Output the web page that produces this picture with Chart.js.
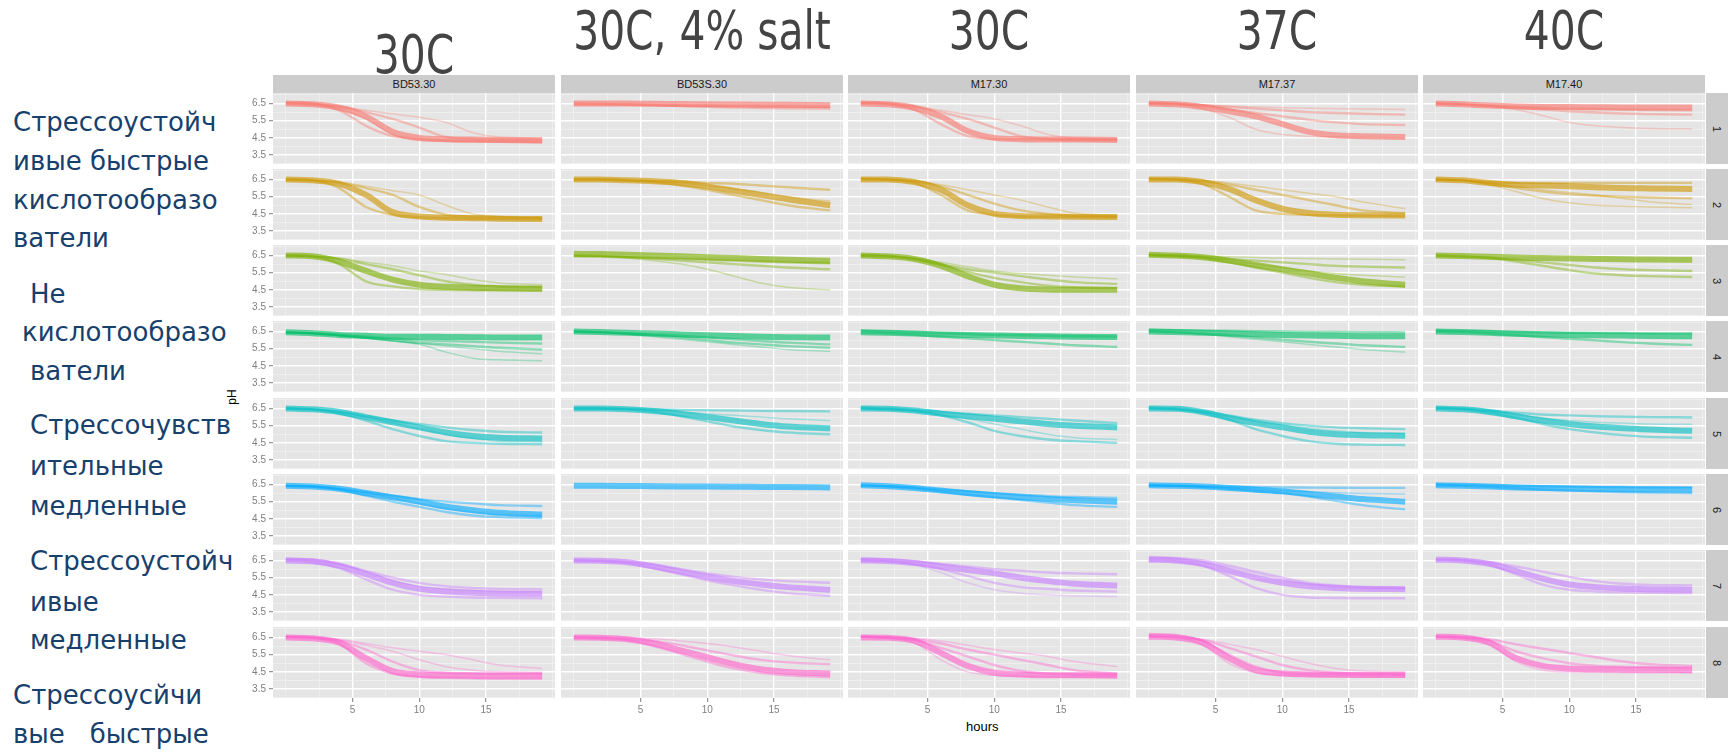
<!doctype html>
<html lang="ru">
<head>
<meta charset="utf-8">
<title>pH curves</title>
<script src="https://cdn.jsdelivr.net/npm/chart.js"></script>
<style>
  body { margin: 0; background: #fff; }
  #page { position: relative; width: 1730px; height: 752px; overflow: hidden; font-family: "Liberation Sans", Arial, sans-serif; }
  .title { position: absolute; width: 320px; text-align: center; white-space: nowrap; transform: scaleX(0.84);
           font-family: "DejaVu Sans Condensed", sans-serif; font-size: 54px; line-height: 54px; color: #444444; }
  .strip { position: absolute; background: #CCCCCC; color: #1a1a1a; font-size: 11px; text-align: center; }
  .rstrip { position: absolute; background: #CCCCCC; color: #1a1a1a; font-size: 11px; }
  .rstrip span { position: absolute; left: 50%; top: 50%; transform: translate(-50%, -50%) rotate(90deg); }
  .side { position: absolute; font-family: "DejaVu Sans", sans-serif; font-size: 26px; line-height: 40px; height: 40px; color: #17406D; white-space: pre; }
  canvas { position: absolute; }
</style>
</head>
<body>
<div id="page"></div>
<script>
// hours at which each curve is sampled
const hours = [0, 2, 4, 6, 8, 10, 12, 14, 16, 19.2];
const strains = ['BD53.30', 'BD53S.30', 'M17.30', 'M17.37', 'M17.40'];
const conditions = ['30C', '30C, 4% salt', '30C', '37C', '40C'];
const clusters = ['1', '2', '3', '4', '5', '6', '7', '8'];
const clusterColors = ['#F8766D', '#CD9600', '#7CAE00', '#00BE67', '#00BFC4', '#00A9FF', '#C77CFF', '#FF61CC'];
const xTicks = [5, 10, 15];
const yTicks = [3.5, 4.5, 5.5, 6.5];

// pH curves: one array per strain, 8 clusters, first curve = dense band
const BD53_30 = [
  [[6.5,6.45,6.25,5.75,4.85,4.5,4.42,4.4,4.38,4.35], [6.55,6.5,6.1,5.2,4.6,4.45,4.35,4.3,4.3,4.28], [6.5,6.45,6.3,6.0,5.6,5.1,4.55,4.45,4.42,4.4], [6.45,6.4,6.2,5.6,4.7,4.35,4.3,4.28,4.25,4.22], [6.55,6.5,6.35,6.1,5.9,5.7,5.4,4.8,4.55,4.5]],
  [[6.5,6.45,6.25,5.6,4.6,4.35,4.28,4.25,4.22,4.2], [6.5,6.45,6.0,4.9,4.45,4.3,4.25,4.22,4.2,4.18], [6.5,6.45,6.3,6.0,5.6,4.9,4.45,4.35,4.3,4.25], [6.5,6.45,6.35,6.1,5.85,5.6,5.0,4.5,4.35,4.3]],
  [[6.5,6.45,6.15,5.6,5.1,4.8,4.68,4.62,4.6,4.58], [6.5,6.45,6.0,5.0,4.7,4.55,4.5,4.48,4.47,4.45], [6.5,6.45,6.3,6.0,5.7,5.35,5.0,4.8,4.7,4.65], [6.5,6.45,6.35,6.1,5.9,5.6,5.4,5.1,4.9,4.8]],
  [[6.45,6.4,6.3,6.25,6.2,6.2,6.18,6.17,6.15,6.15], [6.45,6.4,6.3,6.2,6.1,6.0,5.95,5.9,5.85,5.8], [6.45,6.4,6.28,6.15,6.0,5.85,5.75,5.65,5.55,5.45], [6.45,6.4,6.25,6.1,5.95,5.8,5.65,5.5,5.35,5.2], [6.45,6.4,6.25,6.1,5.95,5.75,5.3,4.95,4.85,4.8]],
  [[6.5,6.45,6.3,6.0,5.7,5.4,5.1,4.9,4.8,4.75], [6.5,6.45,6.3,6.05,5.8,5.6,5.4,5.25,5.15,5.1], [6.5,6.45,6.2,5.8,5.3,4.9,4.6,4.5,4.45,4.42], [6.5,6.45,6.3,6.0,5.65,5.3,5.0,4.75,4.6,4.55]],
  [[6.42,6.38,6.25,6.0,5.75,5.5,5.2,5.0,4.85,4.75], [6.42,6.38,6.25,6.05,5.85,5.65,5.5,5.4,5.3,5.25], [6.42,6.38,6.2,5.85,5.5,5.2,4.9,4.7,4.6,4.55], [6.42,6.38,6.25,6.0,5.7,5.4,5.1,4.9,4.75,4.7]],
  [[6.5,6.45,6.2,5.7,5.2,4.85,4.7,4.62,4.58,4.56], [6.6,6.55,6.3,5.9,5.5,5.2,5.0,4.9,4.85,4.82], [6.5,6.4,6.05,5.4,4.8,4.5,4.4,4.35,4.33,4.3], [6.55,6.5,6.25,5.85,5.35,5.0,4.85,4.75,4.7,4.68]],
  [[6.5,6.45,6.2,5.3,4.55,4.35,4.3,4.28,4.27,4.27], [6.55,6.5,6.15,5.0,4.4,4.2,4.15,4.12,4.1,4.1], [6.5,6.45,6.3,5.8,5.1,4.6,4.45,4.42,4.4,4.4], [6.55,6.5,6.35,6.05,5.7,5.2,4.8,4.6,4.5,4.48], [6.55,6.5,6.4,6.15,5.9,5.7,5.5,5.2,4.9,4.7]]
];
const BD53S_30 = [
  [[6.5,6.5,6.5,6.48,6.47,6.45,6.44,6.43,6.42,6.4], [6.45,6.45,6.44,6.42,6.4,6.38,6.36,6.35,6.33,6.3], [6.5,6.48,6.45,6.4,6.35,6.3,6.27,6.24,6.22,6.2]],
  [[6.5,6.5,6.45,6.4,6.3,6.1,5.85,5.6,5.35,5.0], [6.5,6.5,6.45,6.42,6.38,6.3,6.25,6.15,6.05,5.9], [6.5,6.5,6.45,6.35,6.15,5.9,5.6,5.3,5.0,4.7], [6.5,6.5,6.45,6.4,6.3,6.15,5.95,5.75,5.5,5.25]],
  [[6.6,6.58,6.55,6.5,6.45,6.4,6.35,6.3,6.25,6.2], [6.45,6.43,6.4,6.35,6.3,6.25,6.2,6.15,6.1,6.05], [6.5,6.48,6.4,6.3,6.2,6.1,6.0,5.9,5.8,5.7], [6.5,6.45,6.35,6.2,6.0,5.7,5.3,4.9,4.65,4.5]],
  [[6.5,6.47,6.42,6.38,6.33,6.28,6.24,6.2,6.17,6.15], [6.5,6.46,6.4,6.32,6.25,6.15,6.05,5.95,5.85,5.75], [6.5,6.45,6.38,6.28,6.15,6.0,5.85,5.75,5.65,5.55], [6.5,6.45,6.35,6.2,6.05,5.9,5.75,5.6,5.45,5.35]],
  [[6.5,6.5,6.45,6.35,6.2,6.0,5.8,5.6,5.45,5.35], [6.5,6.5,6.48,6.45,6.42,6.4,6.38,6.36,6.35,6.33], [6.5,6.5,6.45,6.3,6.05,5.75,5.45,5.25,5.1,5.0], [6.5,6.5,6.47,6.4,6.3,6.2,6.1,6.0,5.9,5.8]],
  [[6.42,6.42,6.41,6.4,6.39,6.38,6.37,6.36,6.35,6.33]],
  [[6.5,6.48,6.4,6.15,5.85,5.55,5.3,5.1,4.95,4.8], [6.5,6.48,6.42,6.25,6.0,5.75,5.55,5.4,5.3,5.2], [6.5,6.47,6.35,6.05,5.7,5.35,5.05,4.8,4.6,4.45]],
  [[6.5,6.48,6.4,6.15,5.75,5.35,4.95,4.65,4.5,4.4], [6.5,6.48,6.42,6.3,6.05,5.75,5.45,5.2,5.05,4.95], [6.5,6.45,6.35,6.0,5.55,5.1,4.7,4.45,4.3,4.2], [6.55,6.52,6.48,6.42,6.3,6.15,5.95,5.7,5.45,5.2]]
];
const M17_30 = [
  [[6.5,6.45,6.25,5.75,4.9,4.5,4.42,4.4,4.4,4.38], [6.55,6.5,6.3,6.0,5.6,5.1,4.6,4.45,4.42,4.4], [6.5,6.45,6.15,5.3,4.6,4.45,4.42,4.4,4.38,4.36], [6.55,6.5,6.35,6.1,5.85,5.6,5.2,4.7,4.5,4.45]],
  [[6.5,6.5,6.35,5.9,5.0,4.5,4.38,4.35,4.33,4.32], [6.55,6.5,6.4,6.1,5.6,5.1,4.7,4.5,4.4,4.35], [6.5,6.48,6.3,5.6,4.7,4.45,4.35,4.33,4.32,4.3], [6.55,6.5,6.42,6.2,5.9,5.6,5.3,4.9,4.55,4.4]],
  [[6.5,6.45,6.3,5.9,5.3,4.8,4.6,4.52,4.5,4.5], [6.5,6.45,6.3,6.0,5.7,5.5,5.3,5.1,4.95,4.85], [6.5,6.45,6.28,5.95,5.55,5.2,4.95,4.75,4.65,4.6], [6.55,6.5,6.35,6.1,5.85,5.6,5.45,5.35,5.25,5.15]],
  [[6.45,6.42,6.38,6.33,6.3,6.27,6.24,6.22,6.2,6.18], [6.55,6.5,6.45,6.4,6.35,6.3,6.28,6.25,6.22,6.2], [6.45,6.4,6.32,6.2,6.1,6.0,5.9,5.8,5.7,5.6]],
  [[6.5,6.48,6.38,6.2,6.05,5.9,5.75,5.6,5.5,5.4], [6.55,6.5,6.42,6.3,6.2,6.1,6.0,5.9,5.8,5.65], [6.5,6.45,6.35,6.1,5.7,5.2,4.9,4.7,4.6,4.5], [6.5,6.45,6.35,6.15,5.9,5.6,5.3,5.0,4.8,4.7]],
  [[6.45,6.4,6.3,6.15,6.0,5.87,5.76,5.65,5.58,5.5], [6.45,6.4,6.32,6.2,6.1,6.0,5.9,5.82,5.77,5.72], [6.45,6.4,6.28,6.1,5.9,5.75,5.6,5.45,5.3,5.2]],
  [[6.5,6.47,6.35,6.15,5.95,5.75,5.5,5.3,5.15,5.05], [6.6,6.55,6.45,6.3,6.15,6.0,5.9,5.8,5.75,5.7], [6.5,6.45,6.3,6.0,5.6,5.2,4.95,4.85,4.75,4.7], [6.5,6.45,6.25,5.8,5.2,4.8,4.6,4.5,4.45,4.4]],
  [[6.5,6.48,6.3,5.6,4.85,4.45,4.35,4.3,4.3,4.28], [6.55,6.5,6.35,5.9,5.4,4.9,4.55,4.4,4.35,4.3], [6.55,6.5,6.4,6.15,5.8,5.5,5.2,4.9,4.6,4.4], [6.5,6.45,6.2,5.2,4.5,4.3,4.25,4.22,4.2,4.2], [6.55,6.52,6.45,6.3,6.05,5.8,5.6,5.4,5.1,4.8]]
];
const M17_37 = [
  [[6.5,6.45,6.3,6.05,5.75,5.3,4.85,4.65,4.6,4.55], [6.5,6.48,6.4,6.3,6.2,6.1,6.0,5.95,5.9,5.85], [6.5,6.45,6.35,6.15,5.95,5.75,5.55,5.4,5.3,5.25], [6.55,6.5,6.2,5.7,5.0,4.7,4.6,4.55,4.52,4.5], [6.5,6.48,6.42,6.35,6.3,6.25,6.22,6.2,6.18,6.15]],
  [[6.5,6.5,6.35,5.95,5.3,4.8,4.55,4.45,4.42,4.4], [6.55,6.5,6.4,6.2,5.9,5.6,5.3,5.0,4.7,4.55], [6.5,6.48,6.25,5.5,4.7,4.5,4.45,4.42,4.4,4.38], [6.55,6.52,6.45,6.3,6.1,5.9,5.7,5.5,5.2,4.8]],
  [[6.55,6.5,6.4,6.2,5.95,5.7,5.45,5.2,5.0,4.8], [6.55,6.5,6.42,6.3,6.2,6.1,6.0,5.9,5.85,5.8], [6.5,6.45,6.35,6.1,5.8,5.5,5.2,4.95,4.8,4.7], [6.55,6.52,6.47,6.42,6.38,6.35,6.32,6.3,6.28,6.25], [6.5,6.47,6.38,6.2,6.0,5.8,5.6,5.45,5.35,5.25]],
  [[6.5,6.47,6.43,6.38,6.34,6.3,6.27,6.25,6.23,6.22], [6.6,6.58,6.56,6.54,6.52,6.5,6.48,6.47,6.46,6.45], [6.5,6.45,6.38,6.28,6.15,6.02,5.9,5.8,5.7,5.6], [6.5,6.45,6.35,6.2,6.05,5.9,5.75,5.6,5.45,5.3]],
  [[6.5,6.48,6.3,5.95,5.65,5.4,5.15,5.0,4.95,4.92], [6.55,6.5,6.35,6.1,5.85,5.65,5.5,5.4,5.35,5.3], [6.5,6.45,6.25,5.85,5.3,4.9,4.6,4.45,4.4,4.38], [6.5,6.47,6.3,6.0,5.75,5.55,5.35,5.2,5.1,5.05]],
  [[6.45,6.43,6.38,6.3,6.2,6.1,5.95,5.8,5.65,5.5], [6.45,6.43,6.4,6.37,6.35,6.33,6.32,6.31,6.3,6.3], [6.45,6.42,6.35,6.25,6.12,6.0,5.8,5.55,5.3,5.05], [6.45,6.42,6.37,6.3,6.22,6.15,6.08,6.02,5.98,5.95]],
  [[6.55,6.5,6.3,5.9,5.5,5.2,5.0,4.9,4.85,4.83], [6.7,6.65,6.5,6.2,5.85,5.5,5.2,5.05,4.95,4.9], [6.5,6.45,6.2,5.6,4.9,4.5,4.35,4.32,4.3,4.3], [6.6,6.55,6.4,6.1,5.75,5.4,5.1,4.95,4.88,4.85]],
  [[6.55,6.5,6.2,5.3,4.6,4.4,4.35,4.33,4.32,4.32], [6.7,6.65,6.3,5.5,4.8,4.45,4.38,4.35,4.33,4.32], [6.55,6.5,6.35,5.9,5.4,4.9,4.6,4.45,4.4,4.38], [6.6,6.55,6.4,6.1,5.8,5.4,5.0,4.7,4.55,4.5], [6.55,6.5,6.1,5.0,4.45,4.3,4.25,4.22,4.2,4.2]]
];
const M17_40 = [
  [[6.5,6.45,6.38,6.33,6.3,6.29,6.28,6.27,6.27,6.26], [6.5,6.45,6.35,6.25,6.15,6.05,5.98,5.92,5.88,5.85], [6.5,6.45,6.37,6.3,6.25,6.2,6.18,6.15,6.12,6.1], [6.5,6.45,6.35,6.15,5.8,5.4,5.2,5.1,5.05,5.02]],
  [[6.5,6.45,6.3,6.2,6.15,6.1,6.05,6.0,5.98,5.95], [6.5,6.45,6.35,6.3,6.3,6.3,6.3,6.3,6.3,6.3], [6.5,6.45,6.25,6.0,5.8,5.65,5.55,5.5,5.45,5.4], [6.5,6.45,6.2,5.8,5.4,5.15,5.0,4.95,4.9,4.85], [6.5,6.45,6.3,6.1,5.9,5.75,5.6,5.4,5.2,5.05]],
  [[6.5,6.47,6.42,6.38,6.35,6.32,6.3,6.28,6.27,6.25], [6.5,6.45,6.38,6.25,6.1,5.95,5.8,5.7,5.65,5.6], [6.5,6.45,6.35,6.15,5.9,5.65,5.45,5.35,5.3,5.25]],
  [[6.5,6.47,6.42,6.37,6.33,6.3,6.28,6.26,6.24,6.22], [6.55,6.52,6.5,6.47,6.45,6.43,6.42,6.41,6.4,6.4], [6.5,6.46,6.38,6.28,6.18,6.08,5.98,5.88,5.8,5.72]],
  [[6.5,6.45,6.3,6.05,5.8,5.6,5.45,5.35,5.28,5.2], [6.55,6.5,6.38,6.25,6.15,6.1,6.05,6.02,6.0,5.98], [6.5,6.45,6.25,5.95,5.6,5.3,5.1,4.95,4.85,4.8], [6.5,6.47,6.35,6.15,5.95,5.8,5.7,5.65,5.6,5.58]],
  [[6.45,6.42,6.38,6.33,6.29,6.26,6.24,6.22,6.21,6.2], [6.5,6.48,6.45,6.42,6.4,6.38,6.36,6.35,6.34,6.33], [6.45,6.42,6.36,6.28,6.2,6.14,6.1,6.06,6.03,6.0]],
  [[6.55,6.5,6.3,5.9,5.45,5.1,4.95,4.87,4.83,4.8], [6.55,6.52,6.4,6.15,5.85,5.55,5.3,5.15,5.08,5.05], [6.55,6.5,6.25,5.7,5.1,4.8,4.7,4.65,4.62,4.6]],
  [[6.55,6.5,6.2,5.3,4.85,4.7,4.65,4.63,4.62,4.6], [6.55,6.5,6.3,5.7,5.3,5.0,4.85,4.8,4.78,4.75], [6.55,6.52,6.4,6.1,5.85,5.6,5.35,5.1,4.95,4.85], [6.5,6.45,6.1,5.1,4.6,4.5,4.48,4.46,4.45,4.45]]
];
const panelData = [BD53_30, BD53S_30, M17_30, M17_37, M17_40];

const sideLines = [
  ['Стрессоустойч', 13, 124], ['ивые быстрые', 13, 163], ['кислотообразо', 13, 202], ['ватели', 13, 240],
  ['Не', 30, 296], ['кислотообразо', 22, 334], ['ватели', 30, 373],
  ['Стрессочувств', 30, 427], ['ительные', 30, 468], ['медленные', 30, 508],
  ['Стрессоустойч', 30, 563], ['ивые', 30, 604], ['медленные', 30, 642],
  ['Стрессоусйчи', 13, 697], ['вые   быстрые', 13, 736]
];

const page = document.getElementById('page');
const colLeft = [273, 561, 848, 1136, 1423];
const rowTop = [93, 169, 245, 321, 398, 474, 550, 627];
const PW = 282, PH = 71;
const xMin = -0.96, xMax = 20.16, yMin = 2.98, yMax = 7.11;
const xGrid = [0, 2.5, 5, 7.5, 10, 12.5, 15, 17.5, 20];
const yGrid = [3, 3.5, 4, 4.5, 5, 5.5, 6, 6.5, 7];

function rgba(hex, a) {
  const n = parseInt(hex.slice(1), 16);
  return 'rgba(' + (n >> 16) + ',' + ((n >> 8) & 255) + ',' + (n & 255) + ',' + a + ')';
}

function addDiv(cls, text, css) {
  const d = document.createElement('div');
  d.className = cls;
  d.innerHTML = text;
  Object.assign(d.style, css);
  page.appendChild(d);
  return d;
}

function noPad(s) {
  s.paddingTop = 0; s.paddingBottom = 0; s.paddingLeft = 0; s.paddingRight = 0;
}

const panelBg = {
  id: 'panelBg',
  beforeDraw(chart) {
    const { ctx, chartArea: a } = chart;
    ctx.save();
    ctx.fillStyle = '#E5E5E5';
    ctx.fillRect(a.left, a.top, a.right - a.left, a.bottom - a.top);
    ctx.restore();
  }
};

// titles and strips
conditions.forEach((t, c) => {
  addDiv('title', t, { left: (colLeft[c] + PW / 2 - 160) + 'px', top: (c === 0 ? 28 : 4) + 'px' });
  addDiv('strip', strains[c], { left: colLeft[c] + 'px', top: '75px', width: PW + 'px', height: '18px', lineHeight: '18px' });
});
clusters.forEach((k, r) => {
  addDiv('rstrip', '<span>' + k + '</span>', { left: '1706px', top: rowTop[r] + 'px', width: '22px', height: PH + 'px' });
});
sideLines.forEach(([t, x, y]) => addDiv('side', t, { left: x + 'px', top: (y - 22) + 'px' }));
addDiv('axl', 'pH', { position: 'absolute', left: '224px', top: '390px', fontSize: '12px', color: '#000', transform: 'rotate(-90deg)' });
addDiv('axl', 'hours', { position: 'absolute', left: '966px', top: '719px', fontSize: '13px', color: '#000' });

// panels
for (let c = 0; c < 5; c++) {
  for (let r = 0; r < 8; r++) {
    const leftW = c === 0 ? 40 : 0;
    const botH = r === 7 ? 24 : 0;
    const cv = document.createElement('canvas');
    cv.width = PW + leftW;
    cv.height = PH + botH;
    cv.style.left = (colLeft[c] - leftW) + 'px';
    cv.style.top = rowTop[r] + 'px';
    page.appendChild(cv);

    const color = clusterColors[r];
    const datasets = panelData[c][r].map((curve, i) => ({
      data: curve.map((v, j) => ({ x: hours[j], y: v })),
      borderColor: rgba(color, i === 0 ? 0.62 : (i < 3 ? 0.42 : 0.3)),
      borderWidth: i === 0 ? 6 : (i < 3 ? 2.4 : 1.5),
      pointRadius: 0,
      cubicInterpolationMode: 'monotone',
      order: -i
    }));

    new Chart(cv, {
      type: 'line',
      data: { datasets },
      plugins: [panelBg],
      options: {
        responsive: false,
        animation: false,
        events: [],
        layout: { padding: 0 },
        plugins: { legend: { display: false }, tooltip: { enabled: false } },
        scales: {
          x: {
            type: 'linear', min: xMin, max: xMax,
            afterBuildTicks: s => { s.ticks = xGrid.map(v => ({ value: v })); },
            afterFit: s => { s.height = botH; noPad(s); },
            border: { display: false },
            grid: {
              color: g => xTicks.includes(g.tick.value) ? '#FFFFFF' : '#F2F2F2',
              lineWidth: g => xTicks.includes(g.tick.value) ? 1.4 : 0.7,
              drawTicks: r === 7, tickLength: 4, tickWidth: 1,
              tickColor: g => xTicks.includes(g.tick.value) ? '#7F7F7F' : 'rgba(0,0,0,0)'
            },
            ticks: {
              display: r === 7, autoSkip: false, maxRotation: 0, padding: 2,
              color: '#7F7F7F', font: { size: 10, family: 'Liberation Sans' },
              callback: v => xTicks.includes(v) ? String(v) : ''
            }
          },
          y: {
            type: 'linear', min: yMin, max: yMax,
            afterBuildTicks: s => { s.ticks = yGrid.map(v => ({ value: v })); },
            afterFit: s => { s.width = leftW; noPad(s); },
            border: { display: false },
            grid: {
              color: g => yTicks.includes(g.tick.value) ? '#FFFFFF' : '#F2F2F2',
              lineWidth: g => yTicks.includes(g.tick.value) ? 1.4 : 0.7,
              drawTicks: c === 0, tickLength: 4, tickWidth: 1,
              tickColor: g => yTicks.includes(g.tick.value) ? '#7F7F7F' : 'rgba(0,0,0,0)'
            },
            ticks: {
              display: c === 0, autoSkip: false, padding: 3,
              color: '#7F7F7F', font: { size: 10, family: 'Liberation Sans' },
              callback: v => yTicks.includes(v) ? v.toFixed(1) : ''
            }
          }
        }
      }
    });
  }
}
</script>
</body>
</html>
